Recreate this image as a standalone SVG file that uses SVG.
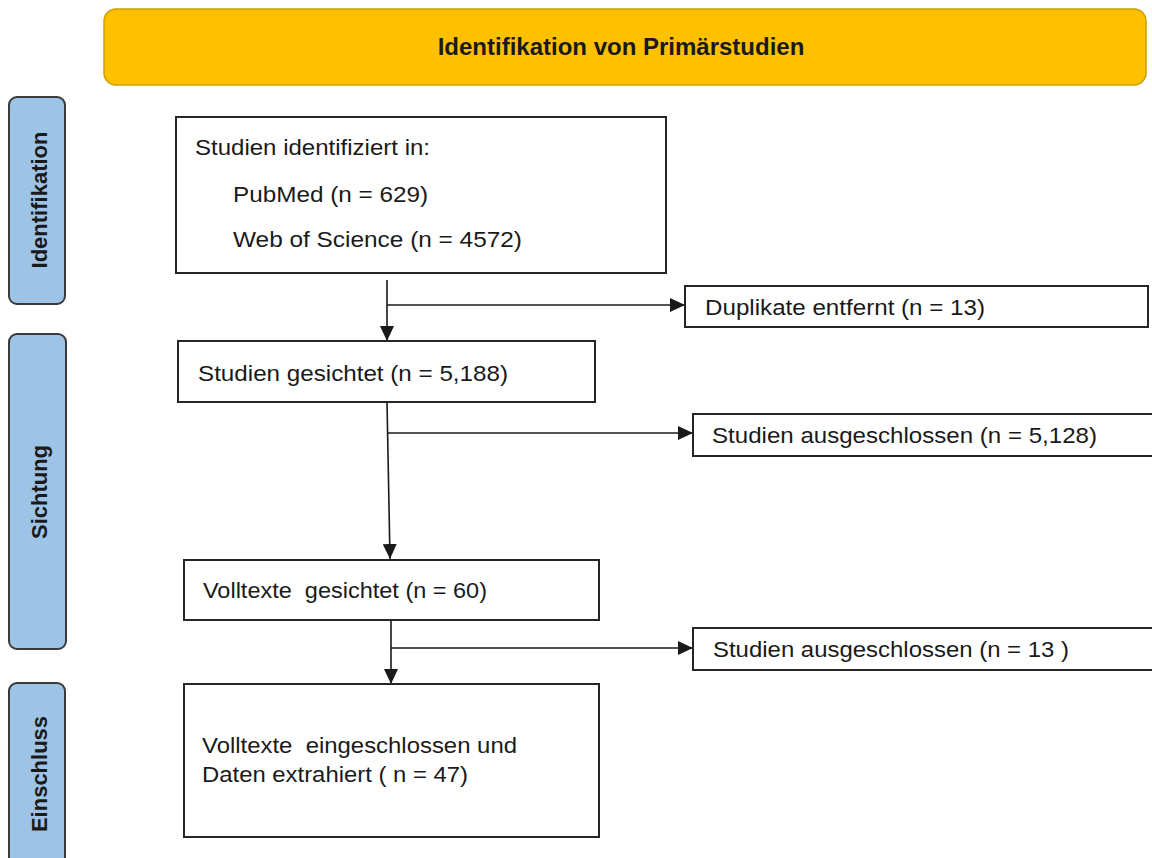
<svg xmlns="http://www.w3.org/2000/svg" width="1152" height="858" viewBox="0 0 1152 858">
<defs>
<style>
.box{fill:#ffffff;stroke:#262626;stroke-width:2}
.side{fill:#9dc3e6;stroke:#3a3a3a;stroke-width:2}
.t{font-family:"Liberation Sans",Arial,sans-serif;font-size:22px;fill:#1a1a1a}
.sl{font-family:"Liberation Sans",Arial,sans-serif;font-size:22px;font-weight:bold;fill:#1a1a1a;text-anchor:middle}
.title{font-family:"Liberation Sans",Arial,sans-serif;font-size:24px;font-weight:bold;fill:#1a1a1a;text-anchor:middle}
.c{fill:none;stroke:#1a1a1a;stroke-width:1.6}
</style>
<marker id="ah" markerUnits="userSpaceOnUse" markerWidth="15" markerHeight="14" viewBox="0 0 15 14" refX="15" refY="7" orient="auto">
<path d="M0,0 L15,7 L0,14 z" fill="#1a1a1a"/>
</marker>
</defs>
<rect width="1152" height="858" fill="#ffffff"/>

<g id="banner">
<rect x="104" y="9" width="1042" height="76" rx="12" ry="12" fill="#ffc000" stroke="#c9a000" stroke-width="1.5"/>
<text class="title" x="621" y="55">Identifikation von Primärstudien</text>
</g>

<g id="phase-identifikation">
<rect class="side" x="9" y="97" width="56" height="207" rx="8" ry="8"/>
<text class="sl" transform="translate(47,200) rotate(-90)">Identifikation</text>
</g>
<g id="phase-sichtung">
<rect class="side" x="9" y="334" width="57" height="315" rx="8" ry="8"/>
<text class="sl" transform="translate(47,492) rotate(-90)">Sichtung</text>
</g>
<g id="phase-einschluss">
<rect class="side" x="9" y="683" width="56" height="190" rx="8" ry="8"/>
<text class="sl" transform="translate(47,774) rotate(-90)">Einschluss</text>
</g>

<g id="connectors">
<path class="c" d="M387,280 V341" marker-end="url(#ah)"/>
<path class="c" d="M387,305 H685" marker-end="url(#ah)"/>
<path class="c" d="M387,402 L390,559" marker-end="url(#ah)"/>
<path class="c" d="M388,433 H693" marker-end="url(#ah)"/>
<path class="c" d="M391,620 V684" marker-end="url(#ah)"/>
<path class="c" d="M391,648 H693" marker-end="url(#ah)"/>
</g>

<g id="identified">
<rect class="box" x="176" y="117" width="490" height="156"/>
<text class="t" x="195" y="155" textLength="235" lengthAdjust="spacingAndGlyphs">Studien identifiziert in:</text>
<text class="t" x="233" y="202" textLength="195" lengthAdjust="spacingAndGlyphs">PubMed (n = 629)</text>
<text class="t" x="233" y="247" textLength="289" lengthAdjust="spacingAndGlyphs">Web of Science (n = 4572)</text>
</g>

<g id="duplicates">
<rect class="box" x="685" y="286" width="463" height="41"/>
<text class="t" x="705" y="315" textLength="280" lengthAdjust="spacingAndGlyphs">Duplikate entfernt (n = 13)</text>
</g>

<g id="screened">
<rect class="box" x="178" y="341" width="417" height="61"/>
<text class="t" x="198" y="381" textLength="310" lengthAdjust="spacingAndGlyphs">Studien gesichtet (n = 5,188)</text>
</g>

<g id="excluded1">
<rect class="box" x="693" y="414" width="470" height="42"/>
<text class="t" x="712" y="443" textLength="385" lengthAdjust="spacingAndGlyphs">Studien ausgeschlossen (n = 5,128)</text>
</g>

<g id="fulltext">
<rect class="box" x="184" y="560" width="415" height="60"/>
<text class="t" x="203" y="598" textLength="284" lengthAdjust="spacingAndGlyphs" xml:space="preserve">Volltexte  gesichtet (n = 60)</text>
</g>

<g id="excluded2">
<rect class="box" x="693" y="628" width="470" height="42"/>
<text class="t" x="713" y="657" textLength="356" lengthAdjust="spacingAndGlyphs">Studien ausgeschlossen (n = 13 )</text>
</g>

<g id="included">
<rect class="box" x="184" y="684" width="415" height="153"/>
<text class="t" x="202" y="753" textLength="315" lengthAdjust="spacingAndGlyphs" xml:space="preserve">Volltexte  eingeschlossen und</text>
<text class="t" x="202" y="782" textLength="266" lengthAdjust="spacingAndGlyphs">Daten extrahiert ( n = 47)</text>
</g>
</svg>
